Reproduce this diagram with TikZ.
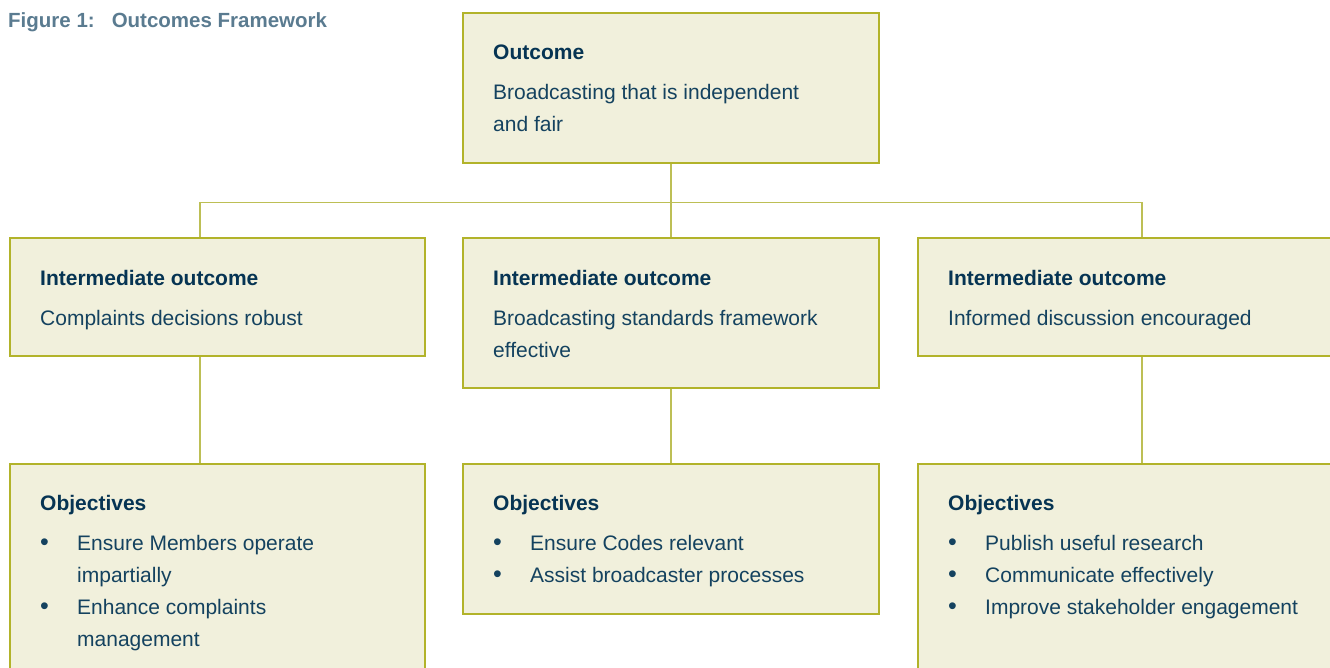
\documentclass[tikz,border=0pt]{standalone}
\usepackage{fontspec}
\setmainfont{Liberation Sans}

\definecolor{boxline}{HTML}{B2B32A}
\definecolor{boxfill}{HTML}{F1F0DC}
\definecolor{linkline}{HTML}{BDBF55}
\definecolor{ink}{HTML}{14425F}
\definecolor{headink}{HTML}{063453}
\definecolor{captionblue}{HTML}{5A7B90}

% Texto de cada caja: encabezado en negrita y cuerpo
\newcommand{\Cell}[2]{\parbox[t]{380pt}{\raggedright\textcolor{headink}{\textbf{#1}}\\[8pt]#2}}
\newcommand{\Bul}{\makebox[37pt][l]{\fontsize{25pt}{32pt}\selectfont\textbullet}}
\newcommand{\Ind}{\hspace*{37pt}}

\begin{document}
\begin{tikzpicture}[x=1pt, y=-1pt,
        box/.style={draw=boxline, fill=boxfill, line width=1.5pt, anchor=north west, inner sep=0pt},
        txt/.style={anchor=base west, inner sep=0pt, text=ink, font=\fontsize{21pt}{32pt}\selectfont},
        link/.style={draw=linkline, line width=1.6pt}]

        \useasboundingbox (0,0) rectangle (1330,667);
        \clip (0,0) rectangle (1330,667);

        % ===============================
        % Titulo
        % ===============================
        \node[anchor=base west, inner sep=0pt, text=captionblue,
            font=\fontsize{20.5pt}{24pt}\selectfont\bfseries] (title) at (8,27)
            {Figure 1:\hspace{17pt}Outcomes Framework};

        % ===============================
        % Cajas (nombre/x/y/ancho/alto)
        % ===============================
        \foreach \n/\x/\y/\w/\h in {
                out/462/12/416/150,
                int1/9/237/415/118,
                int2/462/237/416/150,
                int3/917/237/430/118,
                obj1/9/463/415/230,
                obj2/462/463/416/150,
                obj3/917/463/430/230}{
                \node[box, minimum width=\w pt, minimum height=\h pt] (\n) at (\x,\y) {};
            }

        % ===============================
        % Conectores
        % ===============================
        \draw[link] (out.south) -- ++(0,39) coordinate (bus);
        \draw[link] ([xshift=-17pt]int1.north) |- (bus) -| ([xshift=9pt]int3.north);
        \draw[link] (bus) -- (int2.north);
        \draw[link] ([xshift=-17pt]int1.south) -- ([xshift=-17pt]obj1.north);
        \draw[link] (int2.south) -- (obj2.north);
        \draw[link] ([xshift=9pt]int3.south) -- ([xshift=9pt]obj3.north);

        % ===============================
        % Textos
        % ===============================
        \node[txt] (out-t) at ([shift={(31,47)}]out.north west)
            {\Cell{Outcome}{Broadcasting that is independent\\and fair}};

        \node[txt] (int1-t) at ([shift={(31,48)}]int1.north west)
            {\Cell{Intermediate outcome}{Complaints decisions robust}};
        \node[txt] (int2-t) at ([shift={(31,48)}]int2.north west)
            {\Cell{Intermediate outcome}{Broadcasting standards framework\\effective}};
        \node[txt] (int3-t) at ([shift={(31,48)}]int3.north west)
            {\Cell{Intermediate outcome}{Informed discussion encouraged}};

        \node[txt] (obj1-t) at ([shift={(31,47)}]obj1.north west)
            {\Cell{Objectives}{\Bul Ensure Members operate\\\Ind impartially\\
                \Bul Enhance complaints\\\Ind management}};
        \node[txt] (obj2-t) at ([shift={(31,47)}]obj2.north west)
            {\Cell{Objectives}{\Bul Ensure Codes relevant\\\Bul Assist broadcaster processes}};
        \node[txt] (obj3-t) at ([shift={(31,47)}]obj3.north west)
            {\Cell{Objectives}{\Bul Publish useful research\\\Bul Communicate effectively\\
                \Bul Improve stakeholder engagement}};

    \end{tikzpicture}
\end{document}
